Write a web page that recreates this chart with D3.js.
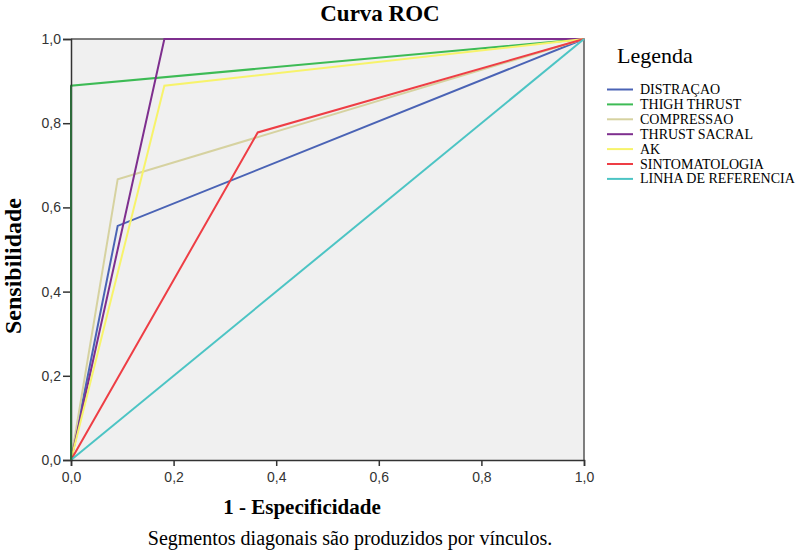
<!DOCTYPE html>
<html><head><meta charset="utf-8">
<script src="https://cdn.jsdelivr.net/npm/d3@7"></script>
<style>body{margin:0;background:#fff}</style>
</head><body>
<svg id="c" width="800" height="555"></svg>
<script>
const seriesNames = ["DISTRAÇAO","THIGH THRUST","COMPRESSAO","THRUST SACRAL","AK","SINTOMATOLOGIA","LINHA DE REFERENCIA"];
const seriesColors = ["#4a63b5","#3dbb55","#d6d2a0","#7e2f8e","#f7f36a","#ee3e45","#4cc4c4"];
const fpr = [
  [0, 0.091, 1],
  [0, 0, 1],
  [0, 0.091, 1],
  [0, 0.182, 1],
  [0, 0.182, 1],
  [0, 0.364, 1],
  [0, 1]
];
const tpr = [
  [0, 0.556, 1],
  [0, 0.889, 1],
  [0, 0.667, 1],
  [0, 1, 1],
  [0, 0.889, 1],
  [0, 0.778, 1],
  [0, 1]
];
const tickValues = [0, 0.2, 0.4, 0.6, 0.8, 1.0];
const fmt = d => d.toFixed(1).replace(".", ",");

const svg = d3.select("#c");
const L = 71, R = 584, T = 39, B = 460;
const x = d3.scaleLinear().domain([0,1]).range([L,R]);
const y = d3.scaleLinear().domain([0,1]).range([B,T]);

svg.append("rect").attr("x",L).attr("y",T).attr("width",R-L).attr("height",B-T).attr("fill","#f0f0f0");
svg.append("path").attr("d",`M${L},${T}H${R}V${B}`).attr("fill","none").attr("stroke","#555").attr("stroke-width",1.5);

const line = d3.line().x(d=>x(d[0])).y(d=>y(d[1]));
seriesNames.forEach((n,i)=>{
  const pts = fpr[i].map((v,j)=>[v,tpr[i][j]]);
  svg.append("path").datum(pts).attr("d",line).attr("fill","none")
    .attr("stroke",seriesColors[i]).attr("stroke-width",2);
});

const xa = svg.append("g").attr("transform",`translate(0,${B})`)
  .call(d3.axisBottom(x).tickValues(tickValues).tickFormat(fmt).tickSizeOuter(0).tickSize(6));
const ya = svg.append("g").attr("transform",`translate(${L},0)`)
  .call(d3.axisLeft(y).tickValues(tickValues).tickFormat(fmt).tickSizeOuter(0).tickSize(8));
[xa,ya].forEach(a=>{
  a.select(".domain").attr("stroke","#333").attr("stroke-width",1.5);
  a.selectAll(".tick line").attr("stroke","#333").attr("stroke-width",1.5);
  a.selectAll(".tick text").attr("font-family","Liberation Sans, Arial, sans-serif").attr("font-size",14).attr("fill","#333");
});
xa.selectAll(".tick text").attr("y",22).attr("dy",0);
ya.selectAll(".tick text").attr("x",-10);
svg.append("line").attr("x1",x(0)).attr("x2",x(0)).attr("y1",y(0)).attr("y2",y(tpr[1][1]))
  .attr("stroke","#2d6a3a").attr("stroke-width",2);

const serif = "Liberation Serif, Times New Roman, serif";
svg.append("text").attr("x",380).attr("y",21).attr("text-anchor","middle")
  .attr("font-family",serif).attr("font-weight","bold").attr("font-size",23).text("Curva ROC");
svg.append("text").attr("x",302).attr("y",514).attr("text-anchor","middle")
  .attr("font-family",serif).attr("font-weight","bold").attr("font-size",21).text("1 - Especificidade");
svg.append("text").attr("transform","translate(21,266) rotate(-90)").attr("text-anchor","middle")
  .attr("font-family",serif).attr("font-weight","bold").attr("font-size",24).text("Sensibilidade");
svg.append("text").attr("x",350).attr("y",545).attr("text-anchor","middle")
  .attr("font-family",serif).attr("font-size",20).text("Segmentos diagonais são produzidos por vínculos.");

svg.append("text").attr("x",617).attr("y",63).attr("font-family",serif).attr("font-size",22).text("Legenda");
const lg = svg.append("g");
seriesNames.forEach((n,i)=>{
  const yy = 89.5 + i*14.9;
  lg.append("line").attr("x1",607).attr("x2",633).attr("y1",yy).attr("y2",yy)
    .attr("stroke",seriesColors[i]).attr("stroke-width",2);
  lg.append("text").attr("x",640).attr("y",yy+4.5).attr("font-family",serif).attr("font-size",14).text(n);
});
</script>
</body></html>
